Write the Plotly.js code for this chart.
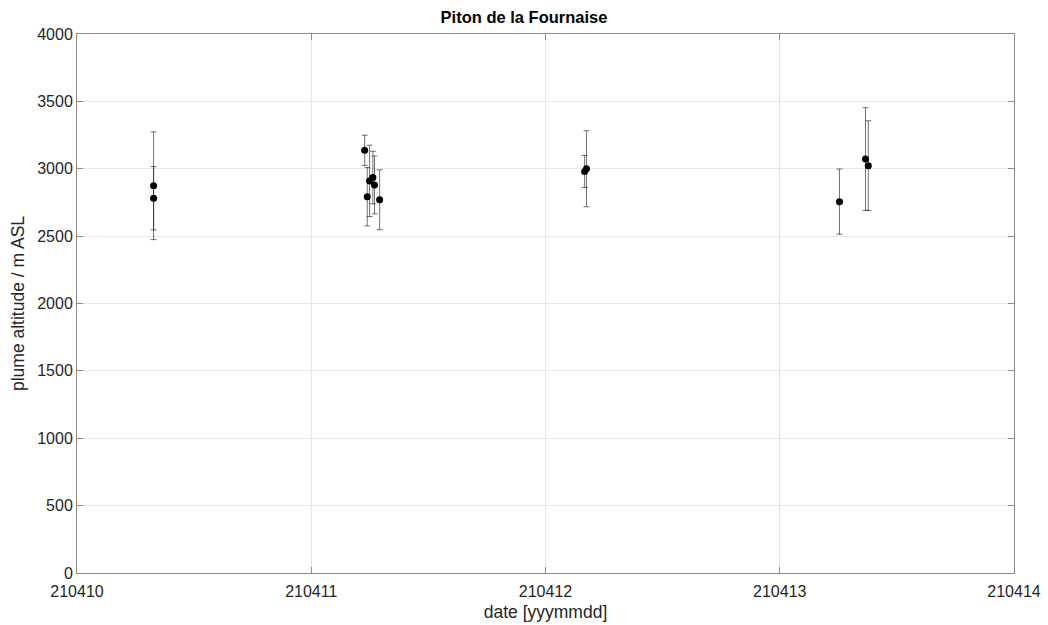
<!DOCTYPE html>
<html>
<head>
<meta charset="utf-8">
<script src="https://cdn.plot.ly/plotly-3.0.1.min.js"></script>
<style>html,body{margin:0;padding:0;background:#fff;}#chart{width:1048px;height:625px;}</style>
</head>
<body>
<div id="chart"></div>
<script>
// date in yymmdd with fractional day
const dates = [210410.327, 210410.327,
  210411.228, 210411.239, 210411.249, 210411.263, 210411.270, 210411.292,
  210412.167, 210412.175,
  210413.255, 210413.366, 210413.378];
const altitudes = [2874, 2781,
  3137, 2793, 2910, 2935, 2880, 2770,
  2980, 3000,
  2756, 3072, 3023];
const errors = [400, 235,
  112, 217, 265, 195, 215, 222,
  119, 282,
  242, 381, 333];
const xTickVals = [210410, 210411, 210412, 210413, 210414];
const xTickText = ['210410', '210411', '210412', '210413', '210414'];
const yTickVals = [0, 500, 1000, 1500, 2000, 2500, 3000, 3500, 4000];

const trace = {
  x: dates,
  y: altitudes,
  type: 'scatter',
  mode: 'markers',
  marker: {color: '#000', size: 7},
  error_y: {type: 'data', array: errors, visible: true, color: 'rgba(0,0,0,0.55)', thickness: 1, width: 3}
};

const axisCommon = {
  showline: true, linecolor: '#8c8c8c', linewidth: 1, mirror: 'ticks',
  ticks: 'inside', ticklen: 6, tickcolor: '#8c8c8c',
  showgrid: true, gridcolor: '#e6e6e6', zeroline: false,
  tickfont: {family: 'Liberation Sans, Arial, sans-serif', size: 16, color: '#262626'}
};

const layout = {
  width: 1048, height: 625,
  margin: {l: 77, r: 34, t: 34, b: 52},
  paper_bgcolor: '#fff', plot_bgcolor: '#fff',
  showlegend: false,
  title: {text: '<b>Piton de la Fournaise</b>', x: 0.5, xanchor: 'center', y: 0.972, yanchor: 'middle',
    font: {family: 'Liberation Sans, Arial, sans-serif', size: 16.5, color: '#000'}},
  xaxis: Object.assign({}, axisCommon, {
    range: [210410, 210414], tickmode: 'array', tickvals: xTickVals, ticktext: xTickText,
    ticklabelstandoff: 4,
    title: {text: 'date [yyymmdd]', standoff: 6, font: {family: 'Liberation Sans, Arial, sans-serif', size: 17.5, color: '#262626'}}
  }),
  yaxis: Object.assign({}, axisCommon, {
    range: [0, 4000], tickmode: 'array', tickvals: yTickVals, tickformat: 'd',
    title: {text: 'plume altitude / m ASL', standoff: 8, font: {family: 'Liberation Sans, Arial, sans-serif', size: 17.5, color: '#262626'}}
  })
};

Plotly.newPlot('chart', [trace], layout, {staticPlot: true, displayModeBar: false});
</script>
</body>
</html>
